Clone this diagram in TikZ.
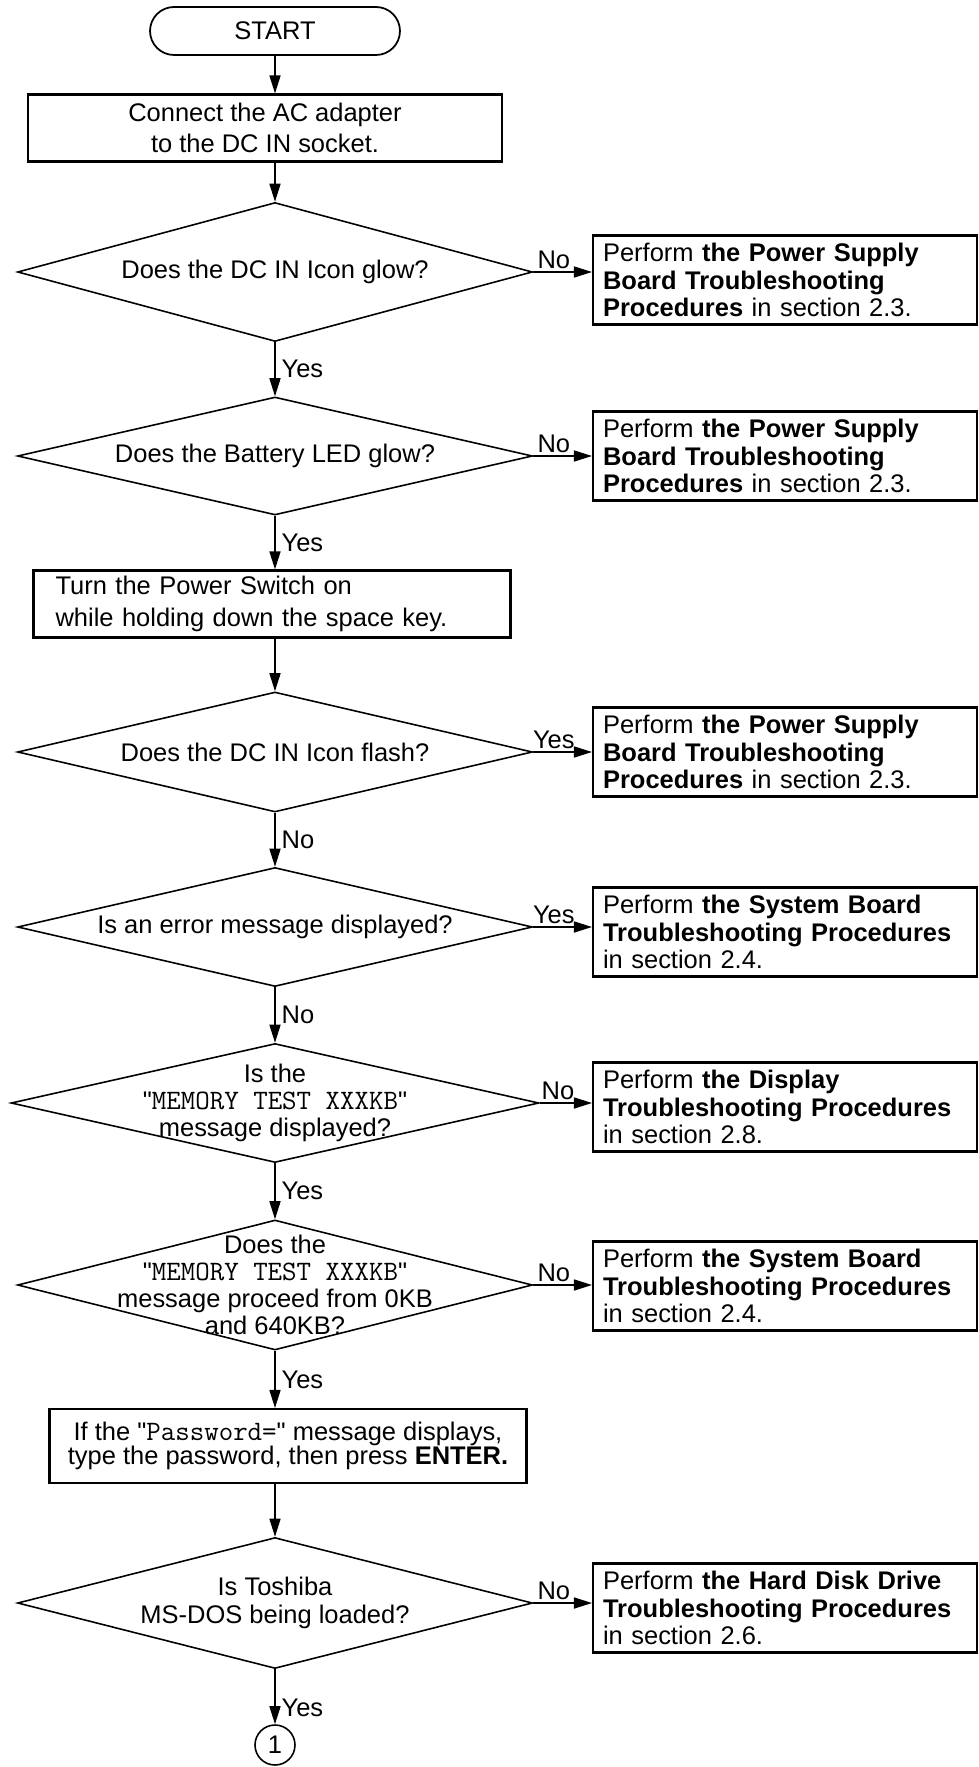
\documentclass[tikz,border=0pt]{standalone}
\usepackage{fontspec}
\setmainfont{Liberation Sans}[Ligatures=TeXOff]
\usetikzlibrary{shapes.geometric,arrows.meta}
\newcommand{\mono}[1]{{\fontsize{16}{15}\selectfont\ttfamily #1}}

\begin{document}
\begin{tikzpicture}[x=0.02cm,y=-0.02cm,
    font=\fontsize{14.5}{15.5}\selectfont,
    term/.style={draw,line width=1pt,rounded corners=0.48cm,minimum width=5cm,minimum height=0.96cm},
    stepbox/.style={draw,line width=1.2pt,minimum height=1.34cm},
    query/.style={draw,diamond,line width=0.9pt,inner sep=0pt,minimum width=10.3cm},
    qtext/.style={align=center},
    rbox/.style={draw,line width=1.2pt,minimum width=7.68cm,minimum height=1.78cm,
      text width=7.28cm,align=left,inner xsep=0.2cm},
    conn/.style={draw,circle,line width=0.9pt,minimum size=0.8cm,inner sep=0pt},
    arr/.style={line width=0.9pt,-{Triangle[length=0.36cm,width=0.22cm]}}]
  \useasboundingbox (0,0) rectangle (979,1767);

  \node[term] (start) at (275,31) {START};
  \node[stepbox,minimum width=9.48cm,align=center,font=\fontsize{14.5}{18}\selectfont]
    (box1) at (265,128) {Connect the AC adapter\\to the DC IN socket.};

  \node[query,minimum height=2.78cm] (d1) at (275,272) {};
  \node[qtext] (d1t) at (d1) {Does the DC IN Icon glow?};
  \node[query,minimum height=2.36cm] (d2) at (275,456) {};
  \node[qtext] (d2t) at (d2) {Does the Battery LED glow?};

  \node[stepbox,minimum width=9.54cm,minimum height=1.32cm,text width=8.66cm,align=left,
    inner xsep=0.44cm,font=\fontsize{14.5}{18}\selectfont]
    (box2) at (272,604) {Turn the Power Switch on\\while holding down the space key.};

  \node[query,minimum height=2.4cm] (d3) at (275,752) {};
  \node[qtext] (d3t) at (d3) {Does the DC IN Icon flash?};
  \node[query,minimum height=2.38cm] (d4) at (275,927) {};
  \node[qtext] (d4t) at (d4) {Is an error message displayed?};
  \node[query,minimum height=2.38cm,minimum width=10.56cm] (d5) at (275,1103) {};
  \node[qtext] (d5t) at (d5) {Is the\\"\mono{MEMORY TEST XXXKB}"\\message displayed?};
  \node[query,minimum height=2.6cm] (d6) at (275,1285) {};
  \node[qtext] (d6t) at (d6) {Does the\\"\mono{MEMORY TEST XXXKB}"\\message proceed from 0KB\\and 640KB?};

  \node[stepbox,minimum width=9.54cm,minimum height=1.48cm,align=center,
    font=\fontsize{14.5}{14}\selectfont]
    (box3) at (288,1446) {If the "\mono{Password=}" message displays,\\type the password, then press \textbf{ENTER.}};

  \node[query,minimum height=2.62cm] (d7) at (275,1603) {};
  \node[qtext] (d7t) at (d7) {Is Toshiba\\MS-DOS being loaded?};
  \node[conn] (c1) at (275,1745) {1};

  \foreach \n/\y in {r1/280,r2/456,r3/752}
    \node[rbox] (\n) at (785,\y) {Perform \textbf{the Power Supply}\\\textbf{Board Troubleshooting}\\\textbf{Procedures} in section 2.3.};
  \foreach \n/\y in {r4/932,r6/1286}
    \node[rbox] (\n) at (785,\y) {Perform \textbf{the System Board}\\\textbf{Troubleshooting Procedures}\\in section 2.4.};
  \node[rbox] (r5) at (785,1107) {Perform \textbf{the Display}\\\textbf{Troubleshooting Procedures}\\in section 2.8.};
  \node[rbox] (r7) at (785,1608) {Perform \textbf{the Hard Disk Drive}\\\textbf{Troubleshooting Procedures}\\in section 2.6.};

  \foreach \d/\r/\a in {d1/r1/No,d2/r2/No,d3/r3/Yes,d4/r4/Yes,d5/r5/No,d6/r6/No,d7/r7/No}
    \draw[arr] (\d.east) -- (\d.east -| \r.west) node[pos=0.35,above,inner sep=1.5pt] {\a};

  \draw[arr] (start.south) -- (start.south |- box1.north);
  \draw[arr] (d1.north |- box1.south) -- (d1.north);
  \draw[arr] (d1.south) -- node[right] {Yes} (d2.north);
  \draw[arr] (d2.south) -- node[right] {Yes} (d2.south |- box2.north);
  \draw[arr] (d3.north |- box2.south) -- (d3.north);
  \draw[arr] (d3.south) -- node[right] {No} (d4.north);
  \draw[arr] (d4.south) -- node[right] {No} (d5.north);
  \draw[arr] (d5.south) -- node[right] {Yes} (d6.north);
  \draw[arr] (d6.south) -- node[right] {Yes} (d6.south |- box3.north);
  \draw[arr] (d7.north |- box3.south) -- (d7.north);
  \draw[arr] (d7.south) -- node[pos=0.7,right] {Yes} (c1.north);
\end{tikzpicture}
\end{document}
